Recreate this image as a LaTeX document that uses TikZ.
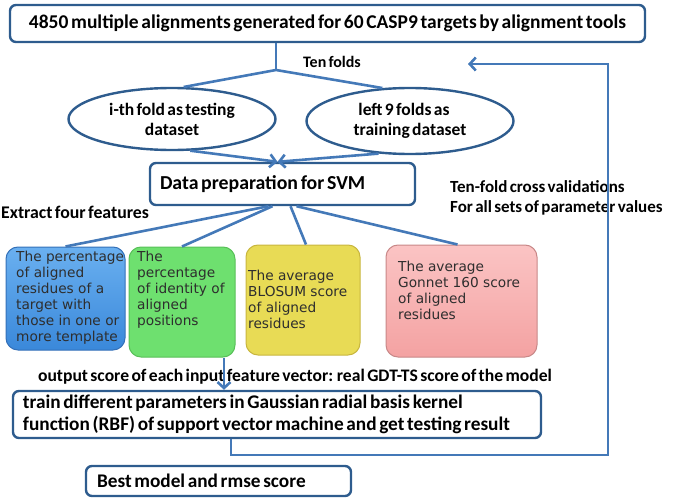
\documentclass[tikz,border=0pt]{standalone}
\usepackage{fontspec}
\setmainfont{Carlito}[WordSpace=0.6]
\newfontfamily\ffeat{DejaVu Sans}
\usetikzlibrary{arrows.meta,shapes.geometric}
\definecolor{bord}{HTML}{2E5C8E}
\definecolor{connc}{HTML}{4479B8}
\definecolor{ftc}{HTML}{2E2E2E}
\definecolor{bluetop}{HTML}{6AB0F0}
\definecolor{bluebot}{HTML}{3A88DA}
\definecolor{bluebd}{HTML}{3470B8}
\definecolor{greenf}{HTML}{6EE06F}
\definecolor{greenbd}{HTML}{58C058}
\definecolor{yellowf}{HTML}{E8DB55}
\definecolor{yellowbd}{HTML}{C8B63E}
\definecolor{pinktop}{HTML}{FBC4C4}
\definecolor{pinkbot}{HTML}{F4A2A2}
\definecolor{pinkbd}{HTML}{C88888}
\begin{document}
\begin{tikzpicture}[x=1pt,y=-1pt,
  box/.style={draw=bord, line width=2.4pt, rounded corners=6pt, fill=white, inner sep=0pt},
  lbox/.style={box, align=left, execute at begin node={\spaceskip=0pt\xspaceskip=0pt\hyphenpenalty=10000}},
  ell/.style={ellipse, draw=bord, line width=2.4pt, fill=white, inner sep=0pt, align=center, font=\bfseries\fontsize{17.5}{20}\selectfont},
  conn/.style={draw=connc, line width=2.6pt},
  tip/.style={-{Straight Barb[length=6pt,width=13pt]}},
  feat/.style={rounded corners=12pt, line width=1pt, inner sep=0pt},
  ftext/.style={font=\ffeat\fontsize{13.7}{16}\selectfont, text=ftc, align=left, inner sep=0pt, anchor=north west},
  lab/.style={font=\bfseries\fontsize{17}{20}\selectfont, inner sep=0pt, align=left}]
\useasboundingbox (0,0) rectangle (675,503);

\node[box, minimum width=635pt, minimum height=37pt, font=\bfseries\fontsize{19.5}{22}\selectfont] (top) at (327.5,23.5) {4850 multiple alignments generated for 60 CASP9 targets by alignment tools};

\coordinate (j) at (276,70);
\node[lab, font=\bfseries\fontsize{16}{20}\selectfont] (tenf) at (332,62) {Ten folds};

\node[ell, minimum width=207pt, minimum height=62pt] (lell) at (172,119) {i-th fold as testing\\dataset};
\node[ell, minimum width=207pt, minimum height=66pt] (rell) at (410,121) {\hspace*{-12pt}left 9 folds as\\training dataset};

\node[lbox, minimum width=265pt, minimum height=42pt, text width=245pt, font=\bfseries\fontsize{19.8}{22}\selectfont] (data) at (282.5,184) {Data preparation for SVM};

\draw[conn] (top.south -| j) -- (j);
\draw[conn] (lell.70) -- (j) -- (rell.130);
\draw[conn,tip] (lell.-60) -- ([xshift=-5pt]data.north);
\draw[conn,tip] (rell.-134) -- ([xshift=-5pt]data.north);

\node[lab, anchor=west, font=\bfseries\fontsize{17.8}{20}\selectfont] (extr) at (1,212) {Extract four features};
\node[lab, anchor=north west] (tenfold) at (450,180) {Ten-fold cross validations\\For all sets of parameter values};

\node[feat, draw=bluebd, top color=bluetop, bottom color=bluebot, minimum width=119pt, minimum height=103pt] (fb) at (65.5,298.5) {};
\node[feat, draw=greenbd, fill=greenf, minimum width=106pt, minimum height=110pt] (gb) at (182,302) {};
\node[feat, draw=yellowbd, fill=yellowf, minimum width=114pt, minimum height=110pt] (yb) at (303,300) {};
\node[feat, draw=pinkbd, top color=pinktop, bottom color=pinkbot, minimum width=151pt, minimum height=112pt] (rb) at (461.5,301) {};

\node[ftext] (fbt) at (16,251) {The percentage\\of aligned\\residues of a\\target with\\those in one or\\more template};
\node[ftext] (gbt) at (137,251) {The\\percentage\\of identity of\\aligned\\positions};
\node[ftext] (ybt) at (248,270) {The average\\BLOSUM score\\of aligned\\residues};
\node[ftext] (rbt) at (398,261) {The average\\Gonnet 160 score\\of aligned\\residues};

\draw[conn] ([xshift=-14pt]data.south) -- (fb.north);
\draw[conn] ([xshift=-10pt]data.south) -- (gb.north);
\draw[conn] ([xshift=8pt]data.south) -- ([xshift=3pt]yb.north);
\draw[conn] ([xshift=14pt]data.south) -- ([xshift=-4pt]rb.north);

\node[lab, font=\bfseries\fontsize{17.6}{20}\selectfont] (outl) at (295,377) {output score of each input feature vector: real GDT-TS score of the model};

\node[lbox, minimum width=528pt, minimum height=47pt, text width=508pt, font=\bfseries\fontsize{19.3}{22}\selectfont] (train) at (277,414.5) {train different parameters in Gaussian radial basis kernel\\function (RBF) of support vector machine and get testing result};

\draw[conn,tip] ([xshift=42pt]gb.south) -- ([xshift=42pt]gb.south |- train.north);

\node[lbox, minimum width=265pt, minimum height=30pt, text width=243pt, font=\bfseries\fontsize{19.3}{20}\selectfont] (best) at (218.5,481) {Best model and rmse score};

\coordinate (c1) at (608,455);
\coordinate (c2) at (608,64);
\coordinate (fbend) at (468,64);
\draw[conn,tip] ([xshift=-46pt]train.south) |- (c1) -- (c2) -- (fbend);
\end{tikzpicture}
\end{document}
